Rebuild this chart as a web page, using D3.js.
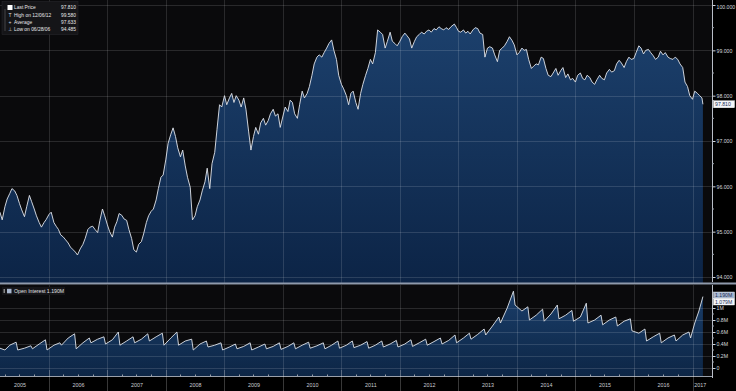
<!DOCTYPE html>
<html><head><meta charset="utf-8">
<script src="https://cdn.jsdelivr.net/npm/d3@7"></script>
<style>html,body{margin:0;padding:0;background:#000;}svg{display:block;font-family:"Liberation Sans",Arial,sans-serif;}</style>
</head><body><svg id="c" width="736" height="391"></svg>
<script>
// ---- DATA ----
const priceDates = [
"2005-03-01","2005-03-15","2005-04-01","2005-04-15","2005-05-01","2005-05-15","2005-06-01","2005-06-15","2005-07-01","2005-07-15","2005-08-01","2005-08-15","2005-09-01","2005-09-15","2005-10-01","2005-10-15","2005-11-01","2005-11-15","2005-12-01","2005-12-15",
"2006-01-01","2006-01-15","2006-02-01","2006-02-15","2006-03-01","2006-03-15","2006-04-01","2006-04-15","2006-05-01","2006-05-15","2006-06-01","2006-06-15","2006-06-28","2006-07-15","2006-08-01","2006-08-15","2006-09-01","2006-09-15","2006-10-01","2006-10-15","2006-11-01","2006-11-15","2006-12-01","2006-12-15",
"2007-01-01","2007-01-15","2007-02-01","2007-02-15","2007-03-01","2007-03-15","2007-04-01","2007-04-15","2007-05-01","2007-05-15","2007-06-01","2007-06-15","2007-07-01","2007-07-15","2007-08-01","2007-08-15","2007-09-01","2007-09-15","2007-10-01","2007-10-15","2007-11-01","2007-11-15","2007-12-01","2007-12-15",
"2008-01-01","2008-01-15","2008-02-01","2008-02-15","2008-03-01","2008-03-15","2008-04-01","2008-04-15","2008-05-01","2008-05-15","2008-06-01","2008-06-15","2008-07-01","2008-07-15","2008-08-01","2008-08-15","2008-09-01","2008-09-15","2008-10-01","2008-10-15","2008-11-01","2008-11-15","2008-12-01","2008-12-15",
"2009-01-01","2009-01-15","2009-02-01","2009-02-15","2009-03-01","2009-03-15","2009-04-01","2009-04-15","2009-05-01","2009-05-15","2009-06-01","2009-06-15","2009-07-01","2009-07-15","2009-08-01","2009-08-15","2009-09-01","2009-09-15","2009-10-01","2009-10-15","2009-11-01","2009-11-15","2009-12-01","2009-12-15",
"2010-01-01","2010-01-15","2010-02-01","2010-02-15","2010-03-01","2010-03-15","2010-04-01","2010-04-15","2010-05-01","2010-05-15","2010-06-01","2010-06-15","2010-07-01","2010-07-15","2010-08-01","2010-08-15","2010-09-01","2010-09-15","2010-10-01","2010-10-15","2010-11-01","2010-11-15","2010-12-01","2010-12-15",
"2011-01-01","2011-01-15","2011-02-01","2011-02-15","2011-03-01","2011-03-15","2011-04-01","2011-04-15","2011-05-01","2011-05-15","2011-06-01","2011-06-15","2011-07-01","2011-07-15","2011-08-01","2011-08-15","2011-09-01","2011-09-15","2011-10-01","2011-10-15","2011-11-01","2011-11-15","2011-12-01","2011-12-15",
"2012-01-01","2012-01-15","2012-02-01","2012-02-15","2012-03-01","2012-03-15","2012-04-01","2012-04-15","2012-05-01","2012-05-15","2012-06-01","2012-06-15","2012-07-01","2012-07-15","2012-08-01","2012-08-15","2012-09-01","2012-09-15","2012-10-01","2012-10-15","2012-11-01","2012-11-15","2012-12-06","2012-12-20",
"2013-01-01","2013-01-15","2013-02-01","2013-02-15","2013-03-01","2013-03-15","2013-04-01","2013-04-15","2013-05-01","2013-05-15","2013-06-01","2013-06-15","2013-07-01","2013-07-15","2013-08-01","2013-08-15","2013-09-01","2013-09-15","2013-10-01","2013-10-15","2013-11-01","2013-11-15","2013-12-01","2013-12-15",
"2014-01-01","2014-01-15","2014-02-01","2014-02-15","2014-03-01","2014-03-15","2014-04-01","2014-04-15","2014-05-01","2014-05-15","2014-06-01","2014-06-15","2014-07-01","2014-07-15","2014-08-01","2014-08-15","2014-09-01","2014-09-15","2014-10-01","2014-10-15","2014-11-01","2014-11-15","2014-12-01","2014-12-15",
"2015-01-01","2015-01-15","2015-02-01","2015-02-15","2015-03-01","2015-03-15","2015-04-01","2015-04-15","2015-05-01","2015-05-15","2015-06-01","2015-06-15","2015-07-01","2015-07-15","2015-08-01","2015-08-15","2015-09-01","2015-09-15","2015-10-01","2015-10-15","2015-11-01","2015-11-15","2015-12-01","2015-12-15",
"2016-01-01","2016-01-15","2016-02-01","2016-02-15","2016-03-01","2016-03-15","2016-04-01","2016-04-15","2016-05-01","2016-05-15","2016-06-01","2016-06-15","2016-07-01","2016-07-15","2016-08-01","2016-08-15","2016-09-01","2016-09-15","2016-10-01","2016-10-15","2016-11-01","2016-11-15","2016-12-01","2016-12-15",
"2017-01-01","2017-01-15","2017-02-01","2017-02-15","2017-03-01","2017-03-07"
];
const priceValues = [
95.43,95.26,95.55,95.72,95.84,95.95,95.90,95.80,95.62,95.48,95.33,95.55,95.80,95.66,95.50,95.35,95.20,95.10,95.20,95.27,
95.38,95.43,95.20,95.12,95.05,94.93,94.88,94.82,94.75,94.66,94.60,94.55,94.485,94.62,94.72,94.85,95.05,95.10,95.12,95.05,94.98,95.25,95.50,95.35,
95.15,95.00,94.88,95.10,95.22,95.40,95.36,95.28,95.25,95.05,94.85,94.60,94.55,94.72,94.78,94.95,95.20,95.35,95.45,95.50,95.70,95.95,96.20,96.25,
96.60,96.95,97.15,97.29,97.10,96.85,96.65,96.80,96.45,96.20,95.98,95.26,95.35,95.55,95.70,95.90,96.10,96.40,95.95,96.50,96.75,97.25,97.80,97.75,
98.00,97.80,97.95,98.05,97.85,98.00,97.90,97.75,97.95,97.70,97.20,96.80,97.10,97.30,97.15,97.40,97.50,97.35,97.45,97.60,97.70,97.55,97.60,97.30,
97.55,97.75,97.65,97.90,97.85,97.60,97.50,97.80,98.10,97.95,98.05,98.20,98.45,98.70,98.85,98.90,98.85,98.95,99.05,99.15,99.23,99.00,98.80,98.45,
98.25,98.15,98.00,97.80,98.05,98.10,97.85,97.70,98.05,98.25,98.45,98.60,98.80,98.70,98.95,99.45,99.40,99.35,99.05,99.20,99.40,99.20,99.15,99.10,
99.20,99.30,99.38,99.32,99.25,99.05,99.20,99.30,99.35,99.40,99.36,99.42,99.45,99.40,99.48,99.45,99.52,99.48,99.45,99.50,99.46,99.52,99.58,99.50,
99.42,99.40,99.45,99.38,99.42,99.36,99.45,99.50,99.48,99.38,99.35,98.85,99.05,99.08,99.05,98.90,98.75,99.00,99.05,99.10,99.20,99.30,99.22,99.12,
98.90,98.95,99.05,99.00,99.02,98.80,98.60,98.65,98.70,98.68,98.85,98.82,98.60,98.45,98.42,98.50,98.60,98.45,98.55,98.62,98.40,98.48,98.35,98.38,
98.30,98.45,98.50,98.38,98.35,98.45,98.40,98.30,98.25,98.35,98.45,98.38,98.35,98.50,98.58,98.52,98.55,98.70,98.78,98.72,98.62,98.75,98.85,98.80,
98.82,98.95,99.10,99.05,98.92,99.00,99.02,98.95,98.88,98.80,98.85,98.98,98.90,98.95,98.85,98.82,98.80,98.85,98.80,98.70,98.62,98.30,98.20,98.00,
97.92,98.10,98.05,98.00,97.95,97.81
];
const oiDates = [
"2005-03-01","2005-04-01","2005-05-01","2005-06-10","2005-06-20","2005-08-01","2005-09-10","2005-09-20","2005-11-01","2005-12-10","2005-12-20",
"2006-02-01","2006-03-10","2006-03-20","2006-05-01","2006-06-10","2006-06-20","2006-08-01","2006-09-10","2006-09-20","2006-11-01","2006-12-10","2006-12-20",
"2007-02-01","2007-03-10","2007-03-20","2007-05-01","2007-06-10","2007-06-20","2007-08-01","2007-09-10","2007-09-20","2007-11-01","2007-12-10","2007-12-20",
"2008-02-01","2008-03-10","2008-03-20","2008-05-01","2008-06-10","2008-06-20","2008-08-01","2008-09-10","2008-09-20","2008-11-01","2008-12-10","2008-12-20",
"2009-02-01","2009-03-10","2009-03-20","2009-05-01","2009-06-10","2009-06-20","2009-08-01","2009-09-10","2009-09-20","2009-11-01","2009-12-10","2009-12-20",
"2010-02-01","2010-03-10","2010-03-20","2010-05-01","2010-06-10","2010-06-20","2010-08-01","2010-09-10","2010-09-20","2010-11-01","2010-12-10","2010-12-20",
"2011-02-01","2011-03-10","2011-03-20","2011-05-01","2011-06-10","2011-06-20","2011-08-01","2011-09-10","2011-09-20","2011-11-01","2011-12-10","2011-12-20",
"2012-02-01","2012-03-10","2012-03-20","2012-05-01","2012-06-10","2012-06-20","2012-08-01","2012-09-10","2012-09-20","2012-11-01","2012-12-10","2012-12-20",
"2013-02-01","2013-03-10","2013-03-20","2013-05-01","2013-06-10","2013-06-20","2013-08-01","2013-09-10","2013-09-20","2013-11-01","2013-12-10","2013-12-20",
"2014-02-01","2014-03-10","2014-03-20","2014-05-01","2014-06-10","2014-06-20","2014-08-01","2014-09-10","2014-09-20","2014-11-01","2014-12-10","2014-12-20",
"2015-02-01","2015-03-10","2015-03-20","2015-05-01","2015-06-10","2015-06-20","2015-08-01","2015-09-10","2015-09-20","2015-11-01","2015-12-10","2015-12-20",
"2016-02-01","2016-03-10","2016-03-20","2016-05-01","2016-06-10","2016-06-20","2016-08-01","2016-09-10","2016-09-20","2016-11-01","2016-12-10","2016-12-20",
"2017-01-15","2017-02-10","2017-03-07"
];
const oiValues = [
0.33,0.30,0.38,0.43,0.30,0.33,0.37,0.32,0.40,0.47,0.30,
0.38,0.42,0.38,0.50,0.57,0.32,0.42,0.50,0.42,0.48,0.52,0.40,
0.47,0.60,0.38,0.45,0.52,0.42,0.48,0.57,0.45,0.52,0.58,0.38,
0.50,0.60,0.38,0.45,0.48,0.30,0.40,0.45,0.35,0.38,0.42,0.30,
0.35,0.40,0.32,0.36,0.42,0.30,0.35,0.40,0.32,0.36,0.42,0.31,
0.36,0.42,0.32,0.38,0.43,0.33,0.37,0.42,0.32,0.38,0.45,0.33,
0.38,0.45,0.34,0.38,0.44,0.33,0.38,0.45,0.35,0.40,0.46,0.35,
0.40,0.47,0.36,0.42,0.48,0.38,0.44,0.50,0.40,0.46,0.55,0.42,
0.50,0.58,0.48,0.56,0.65,0.55,0.70,0.85,0.75,1.00,1.28,1.05,
0.95,1.02,0.80,0.88,0.98,0.78,0.90,1.05,0.82,0.88,0.96,0.78,
0.85,1.08,0.75,0.80,0.88,0.72,0.80,0.85,0.70,0.78,0.82,0.62,
0.58,0.65,0.45,0.52,0.58,0.42,0.50,0.55,0.45,0.55,0.60,0.50,
0.75,0.95,1.19
];
const priceTicks = [94,95,96,97,98,99,100];
const oiTicks = [0,0.2,0.4,0.6,0.8,1];
const legendRows = [["Last Price","97.810"],["High on 12/06/12","99.580"],["Average","97.633"],["Low on 06/28/06","94.485"]];

// ---- LAYOUT ----
const svg = d3.select("#c");
const parse = d3.timeParse("%Y-%m-%d");
const W = 712;
const x = d3.scaleTime().domain([new Date(2005,0,1), new Date(2017,0,1)]).range([-9.5, 692.5]);
const yP = d3.scaleLinear().domain([94,100]).range([277,5]);
const yO = d3.scaleLinear().domain([0,1]).range([368,308]);
const price = priceDates.map((d,i)=>({d:parse(d),v:priceValues[i]}));
const oi = oiDates.map((d,i)=>({d:parse(d),v:oiValues[i]}));

const defs = svg.append("defs");
const g1 = defs.append("linearGradient").attr("id","gp").attr("gradientUnits","userSpaceOnUse").attr("x1",0).attr("x2",0).attr("y1",5).attr("y2",283);
g1.append("stop").attr("offset",0).attr("stop-color","#1d426f");
g1.append("stop").attr("offset",1).attr("stop-color","#0c2446");
const g2 = defs.append("linearGradient").attr("id","go").attr("gradientUnits","userSpaceOnUse").attr("x1",0).attr("x2",0).attr("y1",290).attr("y2",376);
g2.append("stop").attr("offset",0).attr("stop-color","#1a3e6a");
g2.append("stop").attr("offset",1).attr("stop-color","#0d2646");
defs.append("clipPath").attr("id","cp1").append("rect").attr("x",0).attr("y",0).attr("width",W).attr("height",283);
defs.append("clipPath").attr("id","cp2").append("rect").attr("x",0).attr("y",285).attr("width",W).attr("height",91);

// backgrounds
svg.append("rect").attr("x",0).attr("y",0).attr("width",736).attr("height",391).attr("fill","#000");
svg.append("rect").attr("x",0).attr("y",0).attr("width",W).attr("height",283).attr("fill","#0a0a0c");
svg.append("rect").attr("x",0).attr("y",285).attr("width",W).attr("height",91).attr("fill","#0a0a0c");

// areas
const areaP = d3.area().x(d=>x(d.d)).y0(283).y1(d=>yP(d.v));
const lineP = d3.line().x(d=>x(d.d)).y(d=>yP(d.v));
const areaO = d3.area().x(d=>x(d.d)).y0(376).y1(d=>yO(d.v));
const lineO = d3.line().x(d=>x(d.d)).y(d=>yO(d.v));
svg.append("path").datum(price).attr("clip-path","url(#cp1)").attr("d",areaP).attr("fill","url(#gp)");
svg.append("path").datum(oi).attr("clip-path","url(#cp2)").attr("d",areaO).attr("fill","url(#go)");

// gridlines
const years = d3.range(2006,2018).map(y=>new Date(y,0,1));
const grid = svg.append("g").attr("stroke","rgba(255,255,255,0.13)").attr("stroke-width",1);
years.forEach(yv=>{ const xx=Math.round(x(yv))+0.5;
  grid.append("line").attr("x1",xx).attr("x2",xx).attr("y1",0).attr("y2",283);
  grid.append("line").attr("x1",xx).attr("x2",xx).attr("y1",285).attr("y2",376);});
priceTicks.forEach(t=>{ const yy=Math.round(yP(t))+0.5;
  grid.append("line").attr("x1",0).attr("x2",W).attr("y1",yy).attr("y2",yy);});
oiTicks.forEach(t=>{ const yy=Math.round(yO(t))+0.5;
  grid.append("line").attr("x1",0).attr("x2",W).attr("y1",yy).attr("y2",yy);});

// lines
svg.append("path").datum(price).attr("clip-path","url(#cp1)").attr("d",lineP).attr("fill","none").attr("stroke","#e2e5ec").attr("stroke-width",0.9);
svg.append("path").datum(oi).attr("clip-path","url(#cp2)").attr("d",lineO).attr("fill","none").attr("stroke","#dfe3ea").attr("stroke-width",0.9);

// separator
svg.append("rect").attr("x",0).attr("y",282.5).attr("width",736).attr("height",2).attr("fill","#8f9aac");

// right axes
const axP = d3.axisRight(yP).tickValues(priceTicks).tickFormat(d3.format(".3f")).tickSize(3).tickPadding(1);
const gP = svg.append("g").attr("transform",`translate(${W+0.5},0)`).call(axP);
const axO = d3.axisRight(yO).tickValues(oiTicks).tickFormat(d=>d===0?"0":(d===1?"1M":d.toFixed(1)+"M")).tickSize(3).tickPadding(1);
const gO = svg.append("g").attr("transform",`translate(${W+0.5},0)`).call(axO);
[gP,gO].forEach(g=>{ g.select(".domain").remove();
  g.selectAll("line").attr("stroke","#cfd3da");
  g.selectAll("text").attr("fill","#d5d8de").attr("font-size",5.2).attr("dy","0.35em");});
gP.selectAll(".tick").filter(d=>d===100).select("text").attr("dy","0.6em");
svg.append("line").attr("x1",W+0.5).attr("x2",W+0.5).attr("y1",0).attr("y2",282).attr("stroke","#b9bec8");
svg.append("line").attr("x1",W+0.5).attr("x2",W+0.5).attr("y1",285).attr("y2",378).attr("stroke","#b9bec8");
// minor ticks
d3.range(94.5,100,1).forEach(t=>svg.append("line").attr("x1",W).attr("x2",W+2).attr("y1",yP(t)).attr("y2",yP(t)).attr("stroke","#9aa0aa"));
d3.range(0.1,1.1,0.2).forEach(t=>svg.append("line").attr("x1",W).attr("x2",W+2).attr("y1",yO(t)).attr("y2",yO(t)).attr("stroke","#9aa0aa"));

// value tags
function tag(y0, h, txt, bg, fg){
  svg.append("rect").attr("x",W+1.5).attr("y",y0).attr("width",21).attr("height",h).attr("fill",bg).attr("stroke","#ffffff").attr("stroke-width",0.4);
  svg.append("text").attr("x",W+3).attr("y",y0+h/2).attr("dy","0.35em").attr("font-size",5.2).attr("fill",fg).text(txt);
}
tag(yP(priceValues[priceValues.length-1])-3.5, 7, "97.810", "#f4f6fa", "#1b2f55");
tag(292, 6.5, "1.190M", "#a9b8d0", "#1b2f55");
tag(298.5, 6.5, "1.079M", "#f4f6fa", "#1b2f55");

// bottom axis
const axX = d3.axisBottom(x).tickValues(d3.range(2005,2017).map(yv=>new Date(yv,6,1)).concat([new Date(2017,1,15)])).tickSize(0).tickFormat(d3.timeFormat("%Y"));
const gX = svg.append("g").attr("transform","translate(0,376.5)").call(axX);
gX.select(".domain").remove();
gX.selectAll("text").attr("fill","#c9ccd2").attr("font-size",5.4).attr("dy","0").attr("y",10.5);
svg.append("line").attr("x1",0).attr("x2",W).attr("y1",376.5).attr("y2",376.5).attr("stroke","#9aa0aa");
const quarters = d3.timeMonth.every(3).range(new Date(2005,0,1), new Date(2017,3,1));
quarters.forEach(q=>{ const xx=Math.round(x(q))+0.5; if(xx<0||xx>W) return;
  const major = q.getMonth()===0;
  svg.append("line").attr("x1",xx).attr("x2",xx).attr("y1",major?370:374.5).attr("y2",major?391:376.5).attr("stroke",major?"rgba(255,255,255,0.22)":"#9aa0aa");});

// main legend
const lg = svg.append("g");
lg.append("rect").attr("x",2).attr("y",1.5).attr("width",76).attr("height",33).attr("fill","#151518").attr("stroke","#2a2a2e").attr("stroke-width",0.5);
const rowsY=[7.5,15,22,29.5];
legendRows.forEach((r,i)=>{
  lg.append("text").attr("x",14).attr("y",rowsY[i]).attr("dy","0.35em").attr("font-size",4.9).attr("fill","#e8e8ea").text(r[0]);
  lg.append("text").attr("x",76).attr("y",rowsY[i]).attr("dy","0.35em").attr("text-anchor","end").attr("font-size",4.9).attr("fill","#e8e8ea").text(r[1]);
});
lg.append("rect").attr("x",7.5).attr("y",5).attr("width",5).attr("height",5).attr("fill","#ffffff");
lg.append("line").attr("x1",5).attr("x2",5).attr("y1",9).attr("y2",31).attr("stroke","#777").attr("stroke-width",0.5);
lg.append("text").attr("x",10).attr("y",15).attr("dy","0.35em").attr("text-anchor","middle").attr("font-size",5).attr("fill","#ddd").text("T");
lg.append("text").attr("x",10).attr("y",22).attr("dy","0.35em").attr("text-anchor","middle").attr("font-size",5).attr("fill","#ddd").text("+");
lg.append("text").attr("x",10).attr("y",29.5).attr("dy","0.35em").attr("text-anchor","middle").attr("font-size",5).attr("fill","#ddd").text("⊥");

// OI legend
const lg2 = svg.append("g");
lg2.append("rect").attr("x",2).attr("y",287).attr("width",63).attr("height",8).attr("fill","#151518");
lg2.append("rect").attr("x",3.5).attr("y",289).attr("width",1.5).attr("height",4).attr("fill","#888");
lg2.append("rect").attr("x",7).attr("y",288.8).attr("width",4.5).attr("height",4.5).attr("fill","#a9b8d0");
lg2.append("text").attr("x",14).attr("y",291).attr("dy","0.35em").attr("font-size",5.2).attr("fill","#e0e0e4").text("Open Interest  1.190M");
</script></body></html>
